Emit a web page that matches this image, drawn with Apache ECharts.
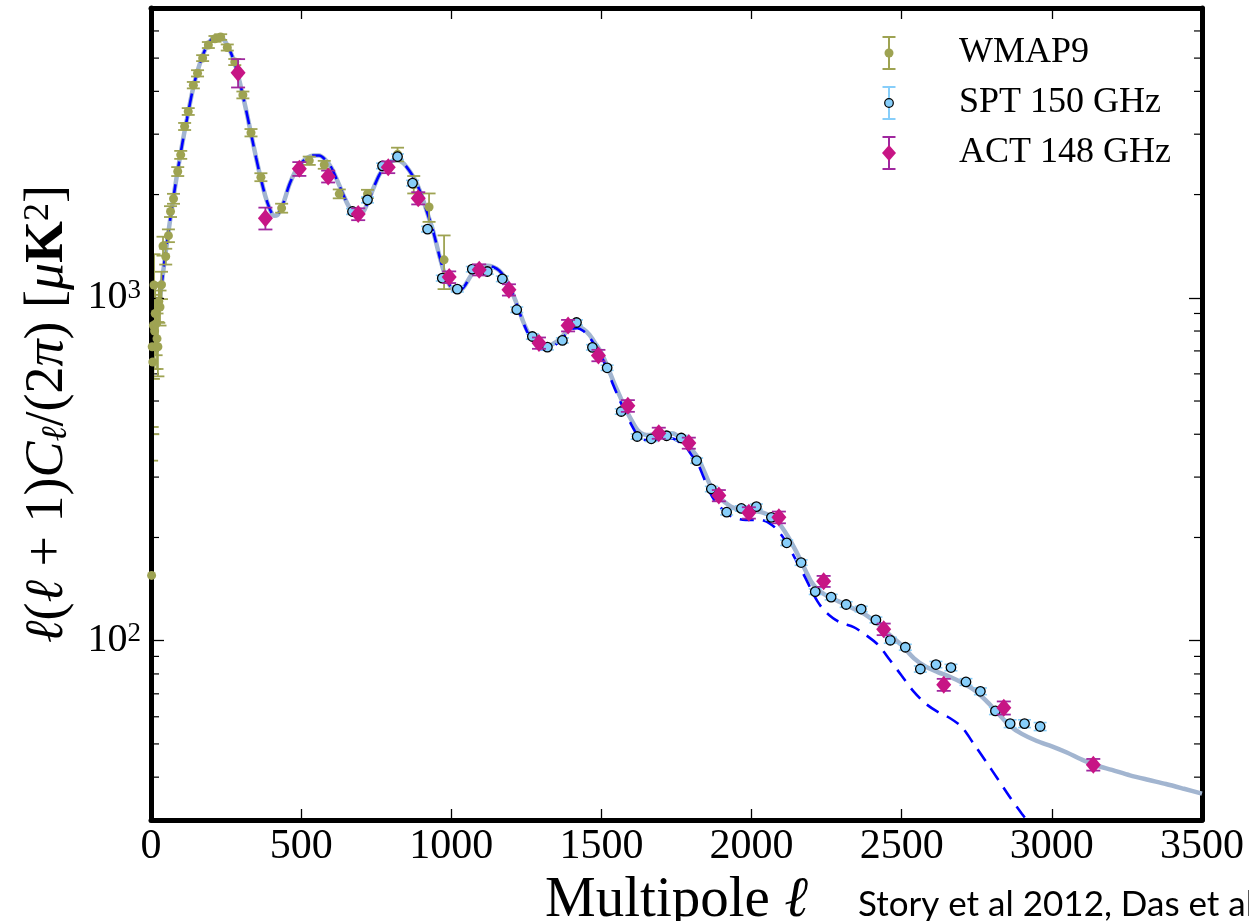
<!DOCTYPE html>
<html>
<head>
<meta charset="utf-8">
<script src="https://cdn.jsdelivr.net/npm/echarts@6/dist/echarts.min.js"></script>
<style>
html,body{margin:0;padding:0;background:#fff;overflow:hidden;}
#chart{width:1249px;height:921px;}
</style>
</head>
<body>
<div id="chart"></div>
<script>
// ---------------- data ----------------
const xTicks = [0, 500, 1000, 1500, 2000, 2500, 3000, 3500];
const yMinorTicks = [40, 50, 60, 70, 80, 90, 200, 300, 400, 500, 600, 700, 800, 900, 2000, 3000, 4000, 5000, 6000, 7000];

const wmapL = [2, 4, 6, 8, 10, 12, 14, 17, 20, 23, 26, 30, 35, 40, 49, 58, 65, 75, 89, 99, 112, 124, 141, 155, 172, 191, 213, 232, 254, 279, 306, 333, 366, 435, 527, 577, 627, 721, 821, 875, 926, 976];
const wmapV = [155, 720, 650, 830, 1090, 800, 900, 840, 760, 720, 975, 940, 1091, 1417, 1320, 1518, 1785, 1945, 2335, 2612, 3160, 3494, 4170, 4515, 5000, 5460, 5690, 5760, 5370, 4870, 3905, 3030, 2248, 1826, 2511, 2443, 2010, 2010, 2620, 2140, 1840, 1290];
const wmapE = [180, 300, 250, 250, 250, 180, 180, 160, 140, 130, 130, 110, 100, 90, 70, 65, 65, 65, 70, 70, 75, 80, 90, 95, 100, 110, 110, 110, 110, 100, 90, 75, 60, 55, 70, 65, 60, 55, 120, 125, 175, 230];

const sptL = [671, 721, 771, 821, 871, 921, 970, 1020, 1070, 1120, 1170, 1218, 1270, 1320, 1370, 1417, 1470, 1519, 1566, 1619, 1666, 1717, 1766, 1817, 1866, 1917, 1966, 2016, 2066, 2117, 2165, 2212, 2265, 2315, 2365, 2414, 2462, 2512, 2562, 2614, 2664, 2714, 2762, 2812, 2861, 2909, 2961];
const sptV = [1785, 1930, 2425, 2580, 2160, 1586, 1141, 1060, 1212, 1193, 1136, 923, 771, 718, 751, 847, 717, 625, 466, 394, 388, 396, 390, 335, 277, 237, 243, 246, 229, 193, 169, 139, 134, 127.5, 123.7, 115, 100.3, 95.7, 82.7, 85.2, 83.5, 75.8, 71.2, 62.4, 57.3, 57.3, 56.2];
const sptE = [35, 38, 45, 48, 40, 30, 22, 20, 22, 22, 21, 17, 14, 13, 13, 15, 13, 11, 8.5, 7, 7, 7, 7, 6, 5, 4.3, 4.4, 4.4, 4.2, 3.5, 3.1, 2.6, 2.5, 2.4, 2.3, 2.2, 2, 1.9, 1.7, 1.8, 1.8, 1.7, 1.6, 1.5, 1.5, 1.5, 1.5];

const actL = [290, 381, 494, 590, 690, 790, 890, 993, 1093, 1192, 1292, 1389, 1490, 1588, 1691, 1791, 1891, 1991, 2091, 2240, 2440, 2640, 2840, 3138];
const actV = [4535, 1707, 2377, 2259, 1754, 2404, 1952, 1149, 1207, 1055, 738, 830, 679, 484, 403, 377, 265, 236, 229, 149, 108, 74.4, 63.7, 43.5];
const actE = [430, 125, 110, 90, 70, 95, 80, 45, 45, 40, 28, 32, 26, 19, 15, 14, 10, 9, 9, 5.5, 4.2, 3, 2.8, 1.7];

const theoryL = [
  2, 10, 20, 30, 40, 50, 60, 70, 80, 90,
  100, 110, 120, 130, 140, 150, 160, 170, 180, 190,
  200, 210, 220, 230, 240, 250, 260, 270, 280, 290,
  300, 310, 320, 330, 340, 350, 360, 370, 380, 390,
  400, 410, 420, 440, 460, 480, 500, 520, 540, 560,
  580, 600, 620, 640, 660, 680, 700, 720, 740, 760,
  780, 800, 820, 840, 860, 880, 900, 920, 940, 960,
  980, 1000, 1020, 1040, 1060, 1080, 1100, 1120, 1140, 1160,
  1180, 1200, 1220, 1240, 1260, 1280, 1300, 1320, 1340, 1360,
  1380, 1400, 1420, 1440, 1460, 1480, 1500, 1520, 1540, 1560,
  1580, 1600, 1620, 1640, 1660, 1680, 1700, 1720, 1740, 1760,
  1780, 1800, 1820, 1840, 1860, 1880, 1900, 1920, 1940, 1960,
  1980, 2000, 2020, 2040, 2060, 2080, 2100, 2120, 2140, 2160,
  2180, 2200, 2220, 2240, 2260, 2280, 2300, 2340, 2380, 2420,
  2460, 2500, 2540, 2580, 2620, 2660, 2700, 2740, 2780, 2820,
  2860, 2900, 2950, 3000, 3050, 3100, 3150, 3200, 3260, 3320,
  3380, 3440, 3500];
// total (CMB + foregrounds): grey solid curve
const totalV = [
  1000, 820, 850, 1000, 1180, 1380, 1600, 1840, 2100, 2380,
  2680, 3000, 3330, 3700, 4080, 4420, 4740, 5030, 5290, 5500,
  5650, 5750, 5790, 5770, 5690, 5540, 5330, 5080, 4800, 4450,
  4100, 3750, 3420, 3100, 2820, 2560, 2340, 2150, 1990, 1870,
  1780, 1735, 1740, 1880, 2130, 2330, 2470, 2560, 2600, 2600,
  2530, 2400, 2200, 2000, 1840, 1760, 1760, 1880, 2080, 2280,
  2420, 2500, 2520, 2470, 2350, 2200, 2000, 1770, 1560, 1330,
  1160, 1070, 1045, 1070, 1140, 1210, 1235, 1240, 1230, 1200,
  1140, 1050, 950, 850, 780, 740, 722, 720, 735, 755,
  790, 820, 825, 810, 780, 735, 690, 630, 570, 520,
  475, 440, 412, 400, 398, 400, 402, 403, 402, 392,
  382, 362, 343, 315, 287, 268, 258, 250, 244, 240,
  239, 239, 238, 236, 232, 226, 215, 202, 188, 174,
  160, 148, 141, 137, 134, 131.5, 129, 124, 119, 112,
  104, 97, 89, 84, 81, 78.5, 75.5, 72, 67, 61.5,
  56.5, 53.5, 51, 49.2, 47.2, 45, 43.2, 42, 40.5, 39.3,
  38.2, 37, 35.8];
// CMB only: blue dashed curve
const cmbV = [
  1000, 820, 850, 1000, 1180, 1380, 1600, 1840, 2100, 2380,
  2680, 3000, 3330, 3700, 4080, 4420, 4740, 5030, 5290, 5500,
  5650, 5750, 5790, 5770, 5690, 5540, 5330, 5080, 4800, 4450,
  4100, 3750, 3420, 3100, 2820, 2560, 2340, 2150, 1990, 1870,
  1780, 1735, 1740, 1880, 2130, 2330, 2470, 2560, 2600, 2600,
  2530, 2400, 2200, 2000, 1840, 1760, 1760, 1880, 2080, 2280,
  2420, 2500, 2520, 2470, 2350, 2200, 2000, 1770, 1560, 1330,
  1160, 1070, 1045, 1070, 1140, 1210, 1235, 1240, 1230, 1200,
  1140, 1050, 945, 845, 772, 728, 708, 707, 722, 745,
  780, 810, 815, 800, 768, 722, 675, 615, 555, 505,
  462, 426, 398, 386, 384, 386, 389, 390, 388, 379,
  368, 348, 330, 300, 272, 254, 243, 234, 229, 226,
  225, 225, 225, 224, 220, 213, 203, 191, 177, 164,
  152, 140, 130, 123, 118.5, 115, 112.5, 109.5, 104, 97.5,
  88, 79, 71, 65.5, 62, 59.5, 56, 50, 44.5, 39.5,
  35, 31.3, 27.5, null, null, null, null, null, null, null,
  null, null, null];

// ---------------- styling ----------------
const SERIF = "'Liberation Serif', 'DejaVu Serif', serif";
const C_WMAP = '#9ea352';
const C_SPT = '#87cefa';
const C_ACT_BAR = '#a0289f';
const C_ACT = '#c71585';
const C_TOTAL = '#a2b5d0';
const C_CMB = '#0000ff';
const X_MIN = 0, X_MAX = 3500, Y_MIN = 30, Y_MAX = 7000;

function svgIcon(inner) {
  const svg = '<svg xmlns="http://www.w3.org/2000/svg" width="72" height="34" viewBox="0 0 72 34">' + inner + '</svg>';
  return 'image://data:image/svg+xml;charset=utf-8,' + encodeURIComponent(svg);
}
function barSvg(c) {
  return '<g stroke="' + c + '" stroke-width="2" fill="none"><line x1="7" y1="1" x2="7" y2="33"/><line x1="0.5" y1="1" x2="13.5" y2="1"/><line x1="0.5" y1="33" x2="13.5" y2="33"/></g>';
}
const iconWMAP = svgIcon(barSvg(C_WMAP) + '<circle cx="7" cy="17" r="4.5" fill="' + C_WMAP + '"/>');
const iconSPT = svgIcon(barSvg(C_SPT) + '<circle cx="7" cy="17" r="4.3" fill="' + C_SPT + '" stroke="#000" stroke-width="1.2"/>');
const iconACT = svgIcon(barSvg(C_ACT_BAR) + '<polygon points="7,9 14,17 7,25 0,17" fill="' + C_ACT + '"/>');

function zip(xs, ys) { return xs.map((x, i) => [x, ys[i]]); }
function errData(xs, ys, es) { return xs.map((x, i) => [x, Math.max(ys[i] - es[i], 1), ys[i] + es[i]]); }

function errRender(color, capHalf, lw) {
  return function (params, api) {
    const x = api.value(0);
    const lo = api.coord([x, api.value(1)]);
    const hi = api.coord([x, api.value(2)]);
    const st = { stroke: color, lineWidth: lw };
    return {
      type: 'group',
      children: [
        { type: 'line', shape: { x1: lo[0], y1: lo[1], x2: hi[0], y2: hi[1] }, style: st },
        { type: 'line', shape: { x1: lo[0] - capHalf, y1: lo[1], x2: lo[0] + capHalf, y2: lo[1] }, style: st },
        { type: 'line', shape: { x1: hi[0] - capHalf, y1: hi[1], x2: hi[0] + capHalf, y2: hi[1] }, style: st }
      ]
    };
  };
}

function minorRender(params, api) {
  const v = api.value(1);
  const l = api.coord([X_MIN, v]);
  const r = api.coord([X_MAX, v]);
  const st = { stroke: '#000', lineWidth: 1.2 };
  return {
    type: 'group',
    children: [
      { type: 'line', shape: { x1: l[0], y1: l[1], x2: l[0] + 8, y2: l[1] }, style: st },
      { type: 'line', shape: { x1: r[0] - 8, y1: r[1], x2: r[0], y2: r[1] }, style: st }
    ]
  };
}

function yLabel(v) {
  const lg = Math.log10(v);
  const e = Math.round(lg);
  if (Math.abs(lg - e) > 1e-6) return '';
  return '{b|10}{s|' + e + '}';
}

const frameLine = { show: true, onZero: false, lineStyle: { color: '#000', width: 5 } };

const chart = echarts.init(document.getElementById('chart'), null, { renderer: 'canvas' });
const option = {
  animation: false,
  backgroundColor: '#fff',
  grid: { left: 151, top: 8, right: 47, bottom: 101, outerBoundsMode: 'none', containLabel: false, show: false },
  legend: {
    orient: 'vertical', left: 882, top: 35, itemWidth: 72, itemHeight: 34, itemGap: 14,
    selectedMode: false, padding: 0,
    textStyle: { fontFamily: SERIF, fontSize: 36, color: '#000' },
    data: [
      { name: 'WMAP9', icon: iconWMAP },
      { name: 'SPT 150 GHz', icon: iconSPT },
      { name: 'ACT 148 GHz', icon: iconACT }
    ]
  },
  xAxis: [
    {
      type: 'value', min: X_MIN, max: X_MAX, interval: 500, position: 'bottom',
      axisLine: frameLine, splitLine: { show: false },
      axisTick: { show: true, inside: true, length: 11, lineStyle: { color: '#000', width: 1.3 } },
      axisLabel: { show: true, margin: 6, fontFamily: SERIF, fontSize: 42, color: '#000', showMinLabel: true, showMaxLabel: true, formatter: v => String(v) },
      name: '{n|Multipole }{i|ℓ}', nameLocation: 'middle', nameGap: 36,
      nameTextStyle: { rich: { n: { fontFamily: SERIF, fontSize: 57, color: '#000' }, i: { fontFamily: SERIF, fontSize: 57, fontStyle: 'italic', color: '#000' } } }
    },
    {
      type: 'value', min: X_MIN, max: X_MAX, interval: 500, position: 'top',
      axisLine: frameLine, splitLine: { show: false }, axisLabel: { show: false },
      axisTick: { show: true, inside: true, length: 11, lineStyle: { color: '#000', width: 1.3 } }
    }
  ],
  yAxis: [
    {
      type: 'log', logBase: 10, min: Y_MIN, max: Y_MAX, position: 'left', z: 4.5,
      axisLine: frameLine, splitLine: { show: false }, minorTick: { show: false },
      axisTick: { show: true, inside: true, length: 13, lineStyle: { color: '#000', width: 1.3 } },
      axisLabel: {
        show: true, margin: 10, formatter: yLabel, showMinLabel: false, showMaxLabel: false,
        rich: {
          b: { fontFamily: SERIF, fontSize: 40, color: '#000' },
          s: { fontFamily: SERIF, fontSize: 27, color: '#000', verticalAlign: 'top' }
        }
      },
      name: '{i|ℓ}{n|(}{i|ℓ}{n| + 1)}{i|C}{sub|ℓ}{n|/(2}{i|π}{n|) [}{i|μ}{b|K}{sup|2}{n|]}',
      nameLocation: 'middle', nameGap: 76, nameRotate: 90,
      nameTextStyle: {
        rich: {
          n: { fontFamily: SERIF, fontSize: 54, color: '#000' },
          i: { fontFamily: SERIF, fontSize: 54, fontStyle: 'italic', color: '#000' },
          b: { fontFamily: SERIF, fontSize: 54, fontWeight: 'bold', color: '#000' },
          sub: { fontFamily: SERIF, fontSize: 36, fontStyle: 'italic', color: '#000', verticalAlign: 'bottom' },
          sup: { fontFamily: SERIF, fontSize: 36, color: '#000', verticalAlign: 'top' }
        }
      }
    },
    {
      type: 'log', logBase: 10, min: Y_MIN, max: Y_MAX, position: 'right',
      axisLine: frameLine, splitLine: { show: false }, axisLabel: { show: false },
      axisTick: { show: true, inside: true, length: 13, lineStyle: { color: '#000', width: 1.3 } }
    }
  ],
  graphic: [
    { type: 'text', left: 858, top: 887, style: { text: 'Story et al 2012, Das et al 2013', font: '35px Lato, "Open Sans", sans-serif', fill: '#000' } }
  ],
  series: [
    {
      name: 'minor ticks', type: 'custom', renderItem: minorRender, silent: true, z: 1,
      data: yMinorTicks.map(v => [X_MIN, v]), encode: { x: 0, y: 1 }
    },
    {
      name: 'Total', type: 'line', data: zip(theoryL, totalV), showSymbol: false, symbol: 'none', smooth: 0.3,
      lineStyle: { color: C_TOTAL, width: 4.5 }, z: 2, clip: true
    },
    {
      name: 'CMB', type: 'line', data: zip(theoryL, cmbV), showSymbol: false, symbol: 'none', smooth: 0.3,
      lineStyle: { color: C_CMB, width: 2.6, type: [14, 9] }, z: 3, clip: true
    },
    {
      name: 'WMAP9', type: 'custom', renderItem: errRender(C_WMAP, 6.5, 1.8), clip: true, z: 4,
      data: errData(wmapL, wmapV, wmapE), encode: { x: 0, y: [1, 2] }
    },
    {
      name: 'WMAP9', type: 'scatter', data: zip(wmapL, wmapV), symbol: 'circle', symbolSize: 9,
      itemStyle: { color: C_WMAP, opacity: 1 }, z: 5, clip: true
    },
    {
      name: 'SPT 150 GHz', type: 'custom', renderItem: errRender(C_SPT, 6.5, 1.6), clip: true, z: 6,
      data: errData(sptL, sptV, sptE), encode: { x: 0, y: [1, 2] }
    },
    {
      name: 'SPT 150 GHz', type: 'scatter', data: zip(sptL, sptV), symbol: 'circle', symbolSize: 9.5,
      itemStyle: { color: C_SPT, borderColor: '#000', borderWidth: 1.3, opacity: 1 }, z: 7, clip: true
    },
    {
      name: 'ACT 148 GHz', type: 'custom', renderItem: errRender(C_ACT_BAR, 7, 1.8), clip: true, z: 8,
      data: errData(actL, actV, actE), encode: { x: 0, y: [1, 2] }
    },
    {
      name: 'ACT 148 GHz', type: 'scatter', data: zip(actL, actV), symbol: 'diamond', symbolSize: [15, 18],
      itemStyle: { color: C_ACT, opacity: 1 }, z: 9, clip: true
    }
  ]
};
chart.setOption(option);
</script>
</body>
</html>
